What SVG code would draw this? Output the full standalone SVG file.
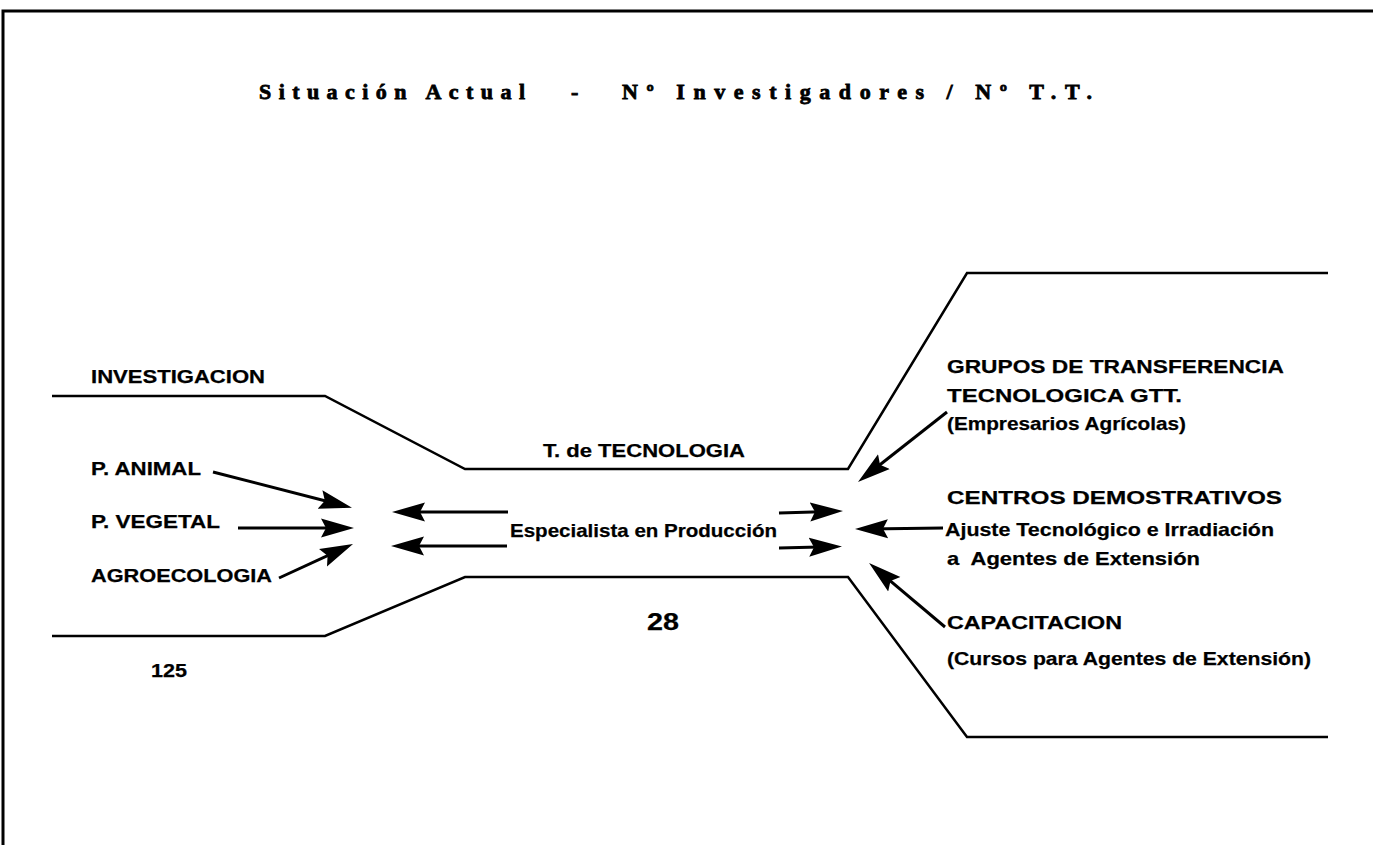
<svg xmlns="http://www.w3.org/2000/svg" width="1373" height="845" viewBox="0 0 1373 845">
<style>
.lbl{font-family:"Liberation Sans",Arial,sans-serif;font-weight:bold;font-size:19px;fill:#000;stroke:#000;stroke-width:0.25}
.ttl{font-family:"Liberation Serif","Times New Roman",serif;font-weight:bold;font-size:22px;fill:#000;stroke:#000;stroke-width:0.8}
.shape{fill:none;stroke:#000;stroke-width:2.5;stroke-linejoin:miter}
.arr{fill:none;stroke:#000;stroke-width:3;marker-end:url(#ah)}
</style>
<defs>
<marker id="ah" markerUnits="userSpaceOnUse" markerWidth="36" markerHeight="22" viewBox="0 0 36 22" refX="20" refY="11" orient="auto">
<path d="M0,1.5 L33,11 L0,20.5 L5,11 z" fill="#000"/>
</marker>
</defs>
<rect width="1373" height="845" fill="#fff"/>
<g id="frame">
<path d="M3,845 L3,11 L1373,11" fill="none" stroke="#000" stroke-width="3"/>
</g>
<g id="title">
<text class="ttl" x="259" y="99" textLength="266" lengthAdjust="spacing">Situación Actual</text>
<text class="ttl" x="571" y="99">-</text>
<text class="ttl" x="622" y="99" textLength="470" lengthAdjust="spacing">Nº Investigadores / Nº T.T.</text>
</g>
<g id="channel">
<path class="shape" d="M52,396 L325,396 L465,469 L848,469 L967,273 L1328,273"/>
<path class="shape" d="M52,636 L325,636 L465,577 L848,577 L967,737 L1328,737"/>
</g>
<g id="investigacion">
<text class="lbl" x="91" y="383" textLength="174" lengthAdjust="spacingAndGlyphs">INVESTIGACION</text>
</g>
<g id="p-animal">
<text class="lbl" x="91" y="475" textLength="110" lengthAdjust="spacingAndGlyphs">P. ANIMAL</text>
</g>
<g id="p-vegetal">
<text class="lbl" x="91" y="528" textLength="129" lengthAdjust="spacingAndGlyphs">P. VEGETAL</text>
</g>
<g id="agroecologia">
<text class="lbl" x="91" y="582" textLength="181" lengthAdjust="spacingAndGlyphs">AGROECOLOGIA</text>
</g>
<g id="n125">
<text class="lbl" x="151" y="677" textLength="36" lengthAdjust="spacingAndGlyphs">125</text>
</g>
<g id="tt">
<text class="lbl" x="543" y="457" textLength="202" lengthAdjust="spacingAndGlyphs">T. de TECNOLOGIA</text>
</g>
<g id="especialista">
<text class="lbl" x="510" y="537" textLength="267" lengthAdjust="spacingAndGlyphs">Especialista en Producción</text>
</g>
<g id="n28">
<text class="lbl" x="647" y="630" style="font-size:23px" textLength="32" lengthAdjust="spacingAndGlyphs">28</text>
</g>
<g id="gtt">
<text class="lbl" x="947" y="373" textLength="337" lengthAdjust="spacingAndGlyphs">GRUPOS DE TRANSFERENCIA</text>
<text class="lbl" x="947" y="402" textLength="235" lengthAdjust="spacingAndGlyphs">TECNOLOGICA GTT.</text>
<text class="lbl" x="947" y="430" textLength="239" lengthAdjust="spacingAndGlyphs">(Empresarios Agrícolas)</text>
</g>
<g id="centros">
<text class="lbl" x="947" y="504" textLength="335" lengthAdjust="spacingAndGlyphs">CENTROS DEMOSTRATIVOS</text>
<text class="lbl" x="945" y="536" textLength="329" lengthAdjust="spacingAndGlyphs">Ajuste Tecnológico e Irradiación</text>
<text class="lbl" x="947" y="565" textLength="253" lengthAdjust="spacingAndGlyphs" xml:space="preserve">a  Agentes de Extensión</text>
</g>
<g id="capacitacion">
<text class="lbl" x="947" y="629" textLength="175" lengthAdjust="spacingAndGlyphs">CAPACITACION</text>
<text class="lbl" x="947" y="665" textLength="364" lengthAdjust="spacingAndGlyphs">(Cursos para Agentes de Extensión)</text>
</g>
<g id="connectors">
<line class="arr" x1="213" y1="472" x2="339.4" y2="504.5"/>
<line class="arr" x1="238" y1="528" x2="341" y2="528"/>
<line class="arr" x1="279" y1="578" x2="341.2" y2="549.4"/>
<line class="arr" x1="508" y1="512" x2="405" y2="512"/>
<line class="arr" x1="507" y1="546" x2="404" y2="546"/>
<line class="arr" x1="779" y1="513" x2="830" y2="511.4"/>
<line class="arr" x1="779" y1="548" x2="829" y2="546.8"/>
<line class="arr" x1="947" y1="412" x2="868.2" y2="474"/>
<line class="arr" x1="943" y1="528" x2="868" y2="528.9"/>
<line class="arr" x1="945" y1="627" x2="879" y2="571.4"/>
</g>
</svg>
